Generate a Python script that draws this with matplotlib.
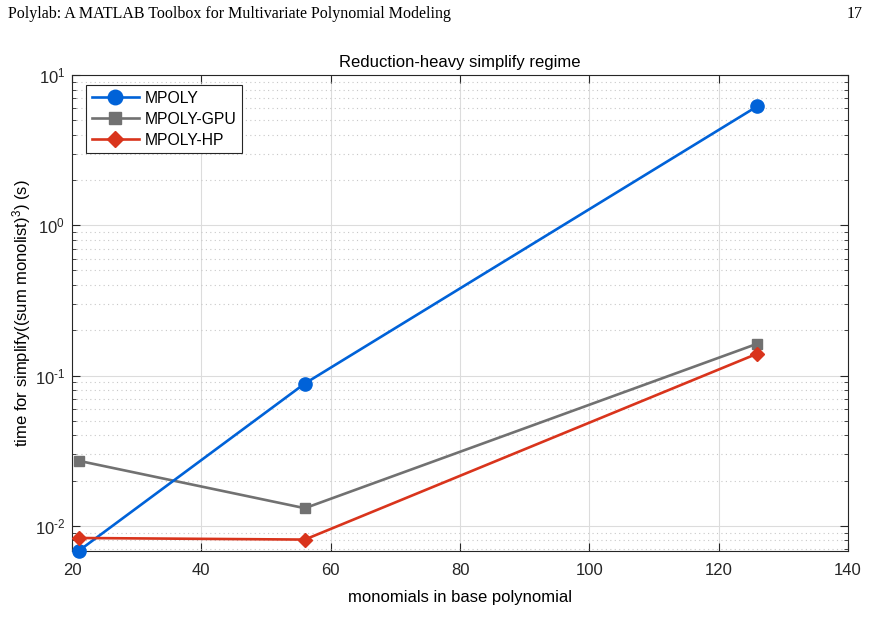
import numpy as np
import matplotlib.pyplot as plt
from matplotlib.ticker import LogLocator, NullFormatter, FuncFormatter

# data
monomials = [21, 56, 126]
t_mpoly = [0.0068, 0.0885, 6.2]
t_gpu = [0.0271, 0.0131, 0.163]
t_hp = [0.0083, 0.0081, 0.140]

plt.rcParams['font.family'] = ['Liberation Sans', 'DejaVu Sans']
plt.rcParams['axes.unicode_minus'] = False
plt.rcParams['mathtext.fontset'] = 'custom'
plt.rcParams['mathtext.rm'] = 'Liberation Sans'
plt.rcParams['mathtext.it'] = 'Liberation Sans'


def log_label(v, pos):
    e = int(round(np.log10(v)))
    s = str(e).replace('-', '\u2010')
    return '$\\mathregular{10^{%s}}$' % s


fig = plt.figure(figsize=(8.7, 6.3), dpi=100)
ax = fig.add_axes([0.0828, 0.1254, 0.8919, 0.7556])

ax.plot(monomials, t_mpoly, color='#0062d8', lw=1.9, marker='o', ms=9.5,
        label='MPOLY', clip_on=False, zorder=4)
ax.plot(monomials, t_gpu, color='#717171', lw=1.9, marker='s', ms=7.5,
        label='MPOLY-GPU', clip_on=False, zorder=3)
ax.plot(monomials, t_hp, color='#d9341c', lw=1.9, marker='D', ms=7.5,
        label='MPOLY-HP', clip_on=False, zorder=5)

ax.set_yscale('log')
ax.set_xlim(20, 140)
ax.set_ylim(min(t_mpoly), 10)
ax.set_xticks([20, 40, 60, 80, 100, 120, 140])
ax.yaxis.set_major_locator(LogLocator(base=10, numticks=10))
ax.yaxis.set_major_formatter(FuncFormatter(log_label))
ax.yaxis.set_minor_locator(LogLocator(base=10, subs=np.arange(2, 10), numticks=20))
ax.yaxis.set_minor_formatter(NullFormatter())

ax.grid(True, which='major', color='#dcdcdc', lw=0.8, ls='-')
ax.grid(True, which='minor', axis='y', color='#c8c8c8', lw=0.8, ls=(0, (1, 3)))
ax.set_axisbelow(True)

ax.tick_params(which='both', direction='in', top=True, right=True,
               labelsize=12, colors='#262626')
ax.tick_params(axis='x', pad=9)
ax.tick_params(axis='y', pad=5)
ax.tick_params(which='major', length=6)
ax.tick_params(which='minor', length=3)
for s in ax.spines.values():
    s.set_color('#262626')
    s.set_linewidth(0.8)

ax.set_title('Reduction-heavy simplify regime', fontsize=12, pad=6)
ax.set_xlabel('monomials in base polynomial', fontsize=12, labelpad=8)
ax.set_ylabel('time for simplify((sum monolist)$\\mathregular{^3}$) (s)',
              fontsize=12, labelpad=1)

leg = ax.legend(loc='upper left', fontsize=11.3, fancybox=False, framealpha=1,
                edgecolor='#262626', borderpad=0.35, handlelength=3.0,
                handletextpad=0.4, bbox_to_anchor=(0.008, 0.995),
                labelspacing=0.38, markerscale=1.1)
leg.get_frame().set_linewidth(0.8)

fig.text(0.009, 0.978, 'Polylab: A MATLAB Toolbox for Multivariate Polynomial Modeling',
         family=['Liberation Serif', 'DejaVu Serif'], fontsize=11.5, va='center', ha='left')
fig.text(0.991, 0.978, '17', family=['Liberation Serif', 'DejaVu Serif'],
         fontsize=11.5, va='center', ha='right')

fig.savefig('out.png', dpi=100)
